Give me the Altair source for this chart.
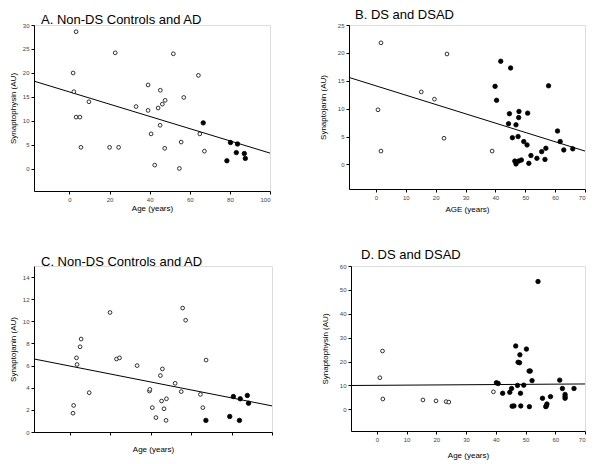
import altair as alt
import pandas as pd

FONT = "Liberation Sans"

# ---------------- Panel A: Non-DS controls (open) and AD (filled), synaptophysin
a_ctrl_age = [3.3, 22.8, 1.8, 2.2, 9.7, 33.2, 39.2, 39.2, 3.3, 5.2, 5.7, 20.0, 24.5, 40.7,
              51.8, 64.3, 45.3, 57.0, 47.7, 46.3, 44.2, 45.2, 65.0, 47.5, 55.7, 67.3, 42.5, 54.8]
a_ctrl_val = [28.6, 24.2, 20.0, 16.1, 14.0, 13.0, 17.5, 12.2, 10.8, 10.8, 4.5, 4.5, 4.5, 7.3,
              24.0, 19.5, 16.4, 14.9, 14.3, 13.5, 12.7, 9.1, 7.3, 4.3, 5.6, 3.7, 0.8, 0.1]
a_ad_age = [66.7, 80.3, 83.8, 83.2, 87.2, 87.7, 78.5]
a_ad_val = [9.6, 5.5, 5.2, 3.4, 3.2, 2.2, 1.7]
a_fit_age = [-17.7, 100]
a_fit_val = [18.3, 3.3]

# ---------------- Panel B: DS (open) and DSAD (filled), synaptojanin
b_ds_age = [1.7, 23.8, 15.2, 19.6, 0.7, 22.8, 1.7, 38.9]
b_ds_val = [21.8, 19.8, 13.0, 11.7, 9.8, 4.7, 2.4, 2.4]
b_dsad_age = [41.8, 45.1, 39.9, 57.8, 40.4, 44.7, 47.9, 50.8, 47.8, 44.4, 46.9, 60.8, 45.7,
              47.6, 61.7, 49.5, 50.6, 62.9, 65.9, 56.9, 55.5, 51.9, 53.9, 56.6, 48.7, 47.8,
              46.5, 46.9, 51.2]
b_dsad_val = [18.5, 17.3, 14.0, 14.1, 11.5, 9.1, 9.5, 9.2, 8.4, 7.3, 7.1, 6.0, 4.8,
              5.0, 4.1, 4.1, 3.5, 2.6, 2.8, 2.9, 2.3, 1.6, 1.1, 0.9, 0.8, 0.6,
              0.6, 0.1, 0.2]
b_fit_age = [-9.0, 70]
b_fit_val = [15.6, 2.4]

# ---------------- Panel C: Non-DS controls (open) and AD (filled), synaptojanin
c_ctrl_age = [19.9, 5.6, 5.1, 3.3, 3.6, 23.1, 24.6, 33.3, 9.6, 1.9, 1.6, 39.4, 39.6, 40.8,
              55.8, 57.3, 67.4, 45.8, 44.8, 52.1, 55.1, 64.6, 47.8, 45.4, 46.6, 65.8, 42.6, 47.6]
c_ctrl_val = [10.8, 8.4, 7.7, 6.7, 6.1, 6.6, 6.7, 6.0, 3.55, 2.4, 1.7, 3.7, 3.85, 2.2,
              11.2, 10.1, 6.5, 5.7, 5.1, 4.4, 3.65, 3.4, 3.0, 2.8, 2.1, 2.2, 1.3, 1.05]
c_ad_age = [80.9, 84.3, 87.8, 88.4, 67.3, 79.1, 83.9]
c_ad_val = [3.2, 3.0, 3.3, 2.6, 1.05, 1.4, 1.05]
c_fit_age = [-17.7, 100]
c_fit_val = [6.6, 2.36]

# ---------------- Panel D: DS (open) and DSAD (filled), synaptophysin
d_ds_age = [1.9, 1.0, 2.0, 15.5, 19.9, 23.3, 24.2, 39.2]
d_ds_val = [24.4, 13.2, 4.3, 3.9, 3.5, 3.2, 3.0, 7.3]
d_dsad_age = [54.2, 46.7, 50.3, 48.1, 47.5, 48.0, 51.2, 51.6, 52.2, 61.5, 40.2, 40.8, 49.4,
              47.3, 45.3, 62.4, 66.3, 44.7, 42.3, 48.3, 58.4, 55.7, 63.3, 63.3, 63.3, 57.2,
              57.0, 56.8, 45.5, 46.1, 48.4, 51.3]
d_dsad_val = [53.5, 26.5, 25.2, 22.8, 19.7, 19.5, 16.0, 16.0, 12.0, 12.2, 11.1, 10.8, 10.1,
              10.0, 8.7, 8.7, 8.7, 7.1, 6.7, 6.7, 5.3, 4.6, 6.2, 5.3, 4.6, 2.2,
              1.4, 1.1, 1.3, 1.4, 1.4, 1.1]
d_fit_age = [-8.7, 70]
d_fit_val = [9.96, 10.6]


def panel(title, o_age, o_val, f_age, f_val, fit_age, fit_val, xdom, ydom, xticks, yticks,
          xtitle, ytitle, w, h, title_dx, title_offset, xtitle_y, ytitle_x, xlabels=True):
    pts = pd.concat([
        pd.DataFrame({"age": o_age, "value": o_val, "group": "open"}),
        pd.DataFrame({"age": f_age, "value": f_val, "group": "filled"}),
    ])
    fit = pd.DataFrame({"age": fit_age, "value": fit_val})
    common_axis = dict(grid=False, tickSize=3, tickColor="black", domainColor="black",
                       labelFontSize=6, labelColor="#444444", labelFont=FONT, labelPadding=2,
                       titleFontSize=8, titleFontWeight="normal", titleFont=FONT,
                       titleColor="black")
    x = alt.X("age:Q", scale=alt.Scale(domain=xdom, nice=False, zero=False),
              axis=alt.Axis(values=xticks, title=xtitle, labels=xlabels, titleY=xtitle_y,
                            titleBaseline="middle", **common_axis))
    y = alt.Y("value:Q", scale=alt.Scale(domain=ydom, nice=False, zero=False),
              axis=alt.Axis(values=yticks, title=ytitle, titleX=ytitle_x,
                            titleBaseline="middle", **common_axis))
    points = alt.Chart(pts).mark_point(shape="circle", filled=True, stroke="black",
                                       strokeWidth=0.8, opacity=1).encode(
        x=x, y=y,
        fill=alt.Fill("group:N", scale=alt.Scale(domain=["open", "filled"],
                                                 range=["white", "black"]), legend=None),
        size=alt.Size("group:N", scale=alt.Scale(domain=["open", "filled"],
                                                 range=[14, 20]), legend=None),
    )
    line = alt.Chart(fit).mark_line(color="black", strokeWidth=1, clip=True).encode(x=x, y=y)
    return alt.layer(line, points).properties(
        width=w, height=h,
        title=alt.TitleParams(title, anchor="start", frame="group", dx=title_dx,
                              offset=title_offset, fontSize=13, fontWeight="normal",
                              font=FONT, color="black"),
    )


A = panel("A. Non-DS Controls and AD", a_ctrl_age, a_ctrl_val, a_ad_age, a_ad_val,
          a_fit_age, a_fit_val, [-17.7, 100], [-4.6, 30], [0, 20, 40, 60, 80, 100],
          [0, 5, 10, 15, 20, 25, 30], "Age (years)", "Synaptophysin (AU)",
          236, 166, 7, -5, 17, -21)
B = panel("B. DS and DSAD", b_ds_age, b_ds_val, b_dsad_age, b_dsad_val,
          b_fit_age, b_fit_val, [-9.0, 70], [-4.4, 25], [0, 10, 20, 30, 40, 50, 60, 70],
          [0, 5, 10, 15, 20, 25], "AGE (years)", "Synaptojanin (AU)",
          236, 164, 6, 0, 20, -26)
C = panel("C. Non-DS Controls and AD", c_ctrl_age, c_ctrl_val, c_ad_age, c_ad_val,
          c_fit_age, c_fit_val, [-17.7, 100], [0, 15], [0, 20, 40, 60, 80, 100],
          [0, 2, 4, 6, 8, 10, 12, 14], "Age (years)", "Synaptojanin (AU)",
          238, 166, 7, -3, 17, -21, xlabels=False)
D = panel("D. DS and DSAD", d_ds_age, d_ds_val, d_dsad_age, d_dsad_val,
          d_fit_age, d_fit_val, [-8.7, 70], [-9.1, 60], [0, 10, 20, 30, 40, 50, 60, 70],
          [0, 10, 20, 30, 40, 50, 60], "Age (years)", "Synaptophysin (AU)",
          234, 165, 10, 1, 24.7, -26)

row1 = alt.hconcat(A, B, spacing=47)
row2 = alt.hconcat(C, D, spacing=47)
chart = alt.vconcat(row1, row2, spacing=34).properties(padding=0).configure_view(
    stroke="black", strokeWidth=1
).configure(background="white")

chart.save("out.html", embed_options={"renderer": "svg", "actions": False})
